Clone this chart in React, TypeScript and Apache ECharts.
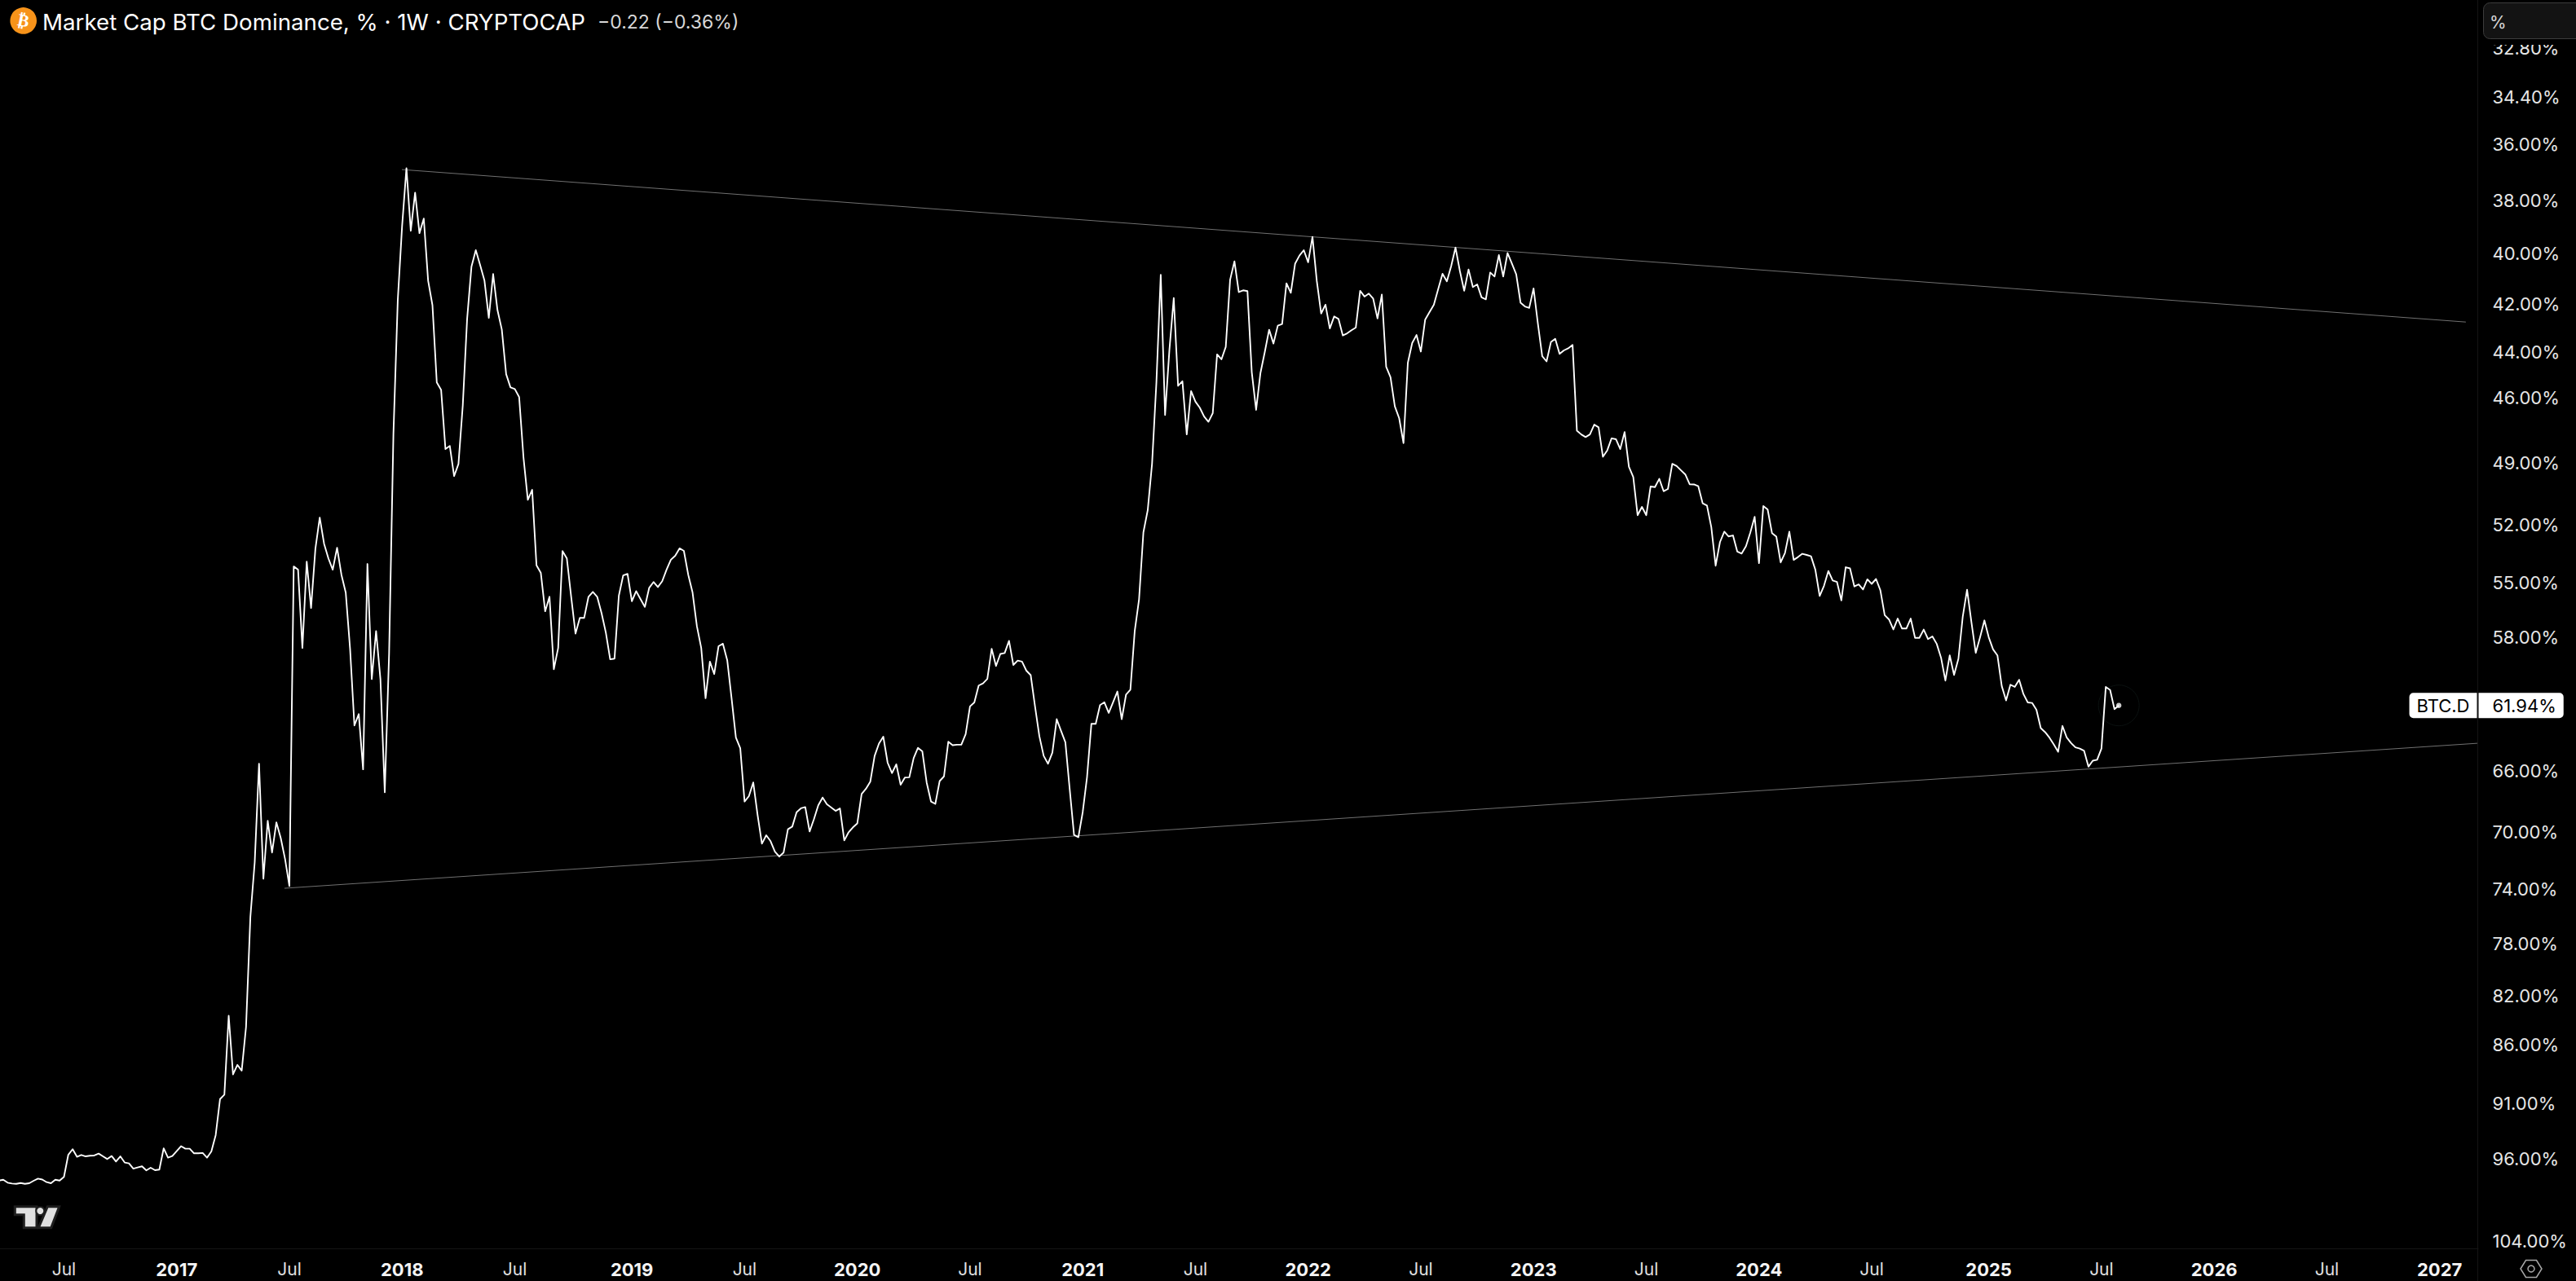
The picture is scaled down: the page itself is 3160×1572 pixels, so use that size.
import React, { useEffect, useRef } from "react";
import * as echarts from "echarts";

// Weekly BTC dominance (%), in order.
const dominanceEarly = [
  98.07, 97.99, 98.27, 98.35, 98.38, 98.30, 98.38, 98.32, 98.09, 97.89, 97.97, 98.22, 98.32, 97.99, 98.07, 97.72,
  95.65, 95.14, 95.84, 95.67, 95.80, 95.74, 95.72, 95.54, 95.80, 96.05, 95.77, 96.28, 95.80, 96.37, 96.45, 96.94,
  96.83, 96.73, 97.11, 96.86, 97.09, 97.03, 95.06, 95.92, 95.77, 95.31, 94.86, 95.09, 95.09, 95.52, 95.52, 95.49,
  95.92, 95.34, 93.85, 90.64, 90.26, 83.62, 88.50, 87.69, 88.18, 84.53,
];
const dominance2017 = [
  76.0, 72.09, 65.53, 73.24, 69.25, 71.41, 69.36, 70.41, 71.86, 73.76, 54.15, 54.32, 58.59, 53.90, 56.37, 53.23,
  51.65, 52.97, 53.73, 54.32, 53.18, 54.58, 55.54, 58.64, 63.15, 62.46, 65.89, 54.02, 60.38, 57.64, 60.38, 67.37,
  58.91, 47.63, 41.86, 38.96, 36.84, 39.14, 37.72, 39.23, 38.68, 41.07, 42.06,
];
const dominance2018 = [
  45.32, 45.65, 48.34, 48.19, 49.62, 49.04, 46.33, 42.62, 40.52, 39.88, 40.46, 41.07, 42.58, 40.81, 42.26, 43.06,
  44.96, 45.54, 45.61, 45.97, 48.73, 50.77, 50.28, 54.09, 54.49, 56.55, 55.76, 59.81, 58.59, 53.35, 53.73, 55.76,
  57.78, 56.91, 56.91, 55.76, 55.50, 55.76, 56.64, 57.73, 59.24, 59.20, 55.70, 54.62, 54.54, 56.00, 55.46, 55.89,
  56.31, 55.28,
];
const dominance2019 = [
  54.97, 55.24, 54.93, 54.32, 53.80, 53.59, 53.21, 53.34, 54.58, 55.53, 57.37, 58.59, 61.51, 59.37, 60.09, 58.49,
  58.35, 59.29, 61.51, 63.90, 64.55, 67.97, 67.62, 66.73, 68.86, 70.80, 70.23, 70.63, 71.35, 71.69, 71.41, 69.82,
  69.64, 68.68, 68.42, 68.34, 69.97, 69.14, 68.22, 67.71, 68.15, 68.37, 68.59, 68.43, 70.58, 70.02, 69.69, 69.43,
  67.48, 67.14,
];
const dominance2020 = [
  66.68, 65.04, 64.27, 63.84, 65.47, 66.13, 65.57, 66.88, 66.41, 66.40, 65.18, 64.53, 64.75, 66.73, 67.97, 68.13,
  66.64, 66.34, 64.15, 64.37, 64.34, 64.34, 63.68, 62.00, 61.76, 60.76, 60.63, 60.37, 58.64, 59.62, 58.93, 58.88,
  58.19, 59.56, 59.31, 59.37, 59.89, 60.15, 62.00, 63.81, 65.04, 65.53, 64.83, 62.77, 63.48, 64.19, 67.17, 70.21,
  70.36, 68.68,
];
const dominance2021 = [
  66.38, 63.05, 63.05, 61.92, 61.75, 62.39, 61.75, 61.11, 62.77, 61.29, 61.00, 57.64, 55.89, 52.39, 51.28, 49.02,
  45.32, 40.84, 46.77, 43.92, 41.77, 45.47, 45.27, 47.66, 45.70, 46.17, 46.44, 46.84, 47.08, 46.69, 44.11, 44.32,
  43.79, 41.04, 40.31, 41.53, 41.46, 41.49, 44.88, 46.54, 44.91, 44.01, 43.07, 43.65, 42.90, 42.83, 41.18, 41.56,
  40.40, 40.09,
];
const dominance2022 = [
  39.88, 40.35, 39.37, 41.09, 42.40, 42.04, 43.02, 42.52, 42.62, 43.31, 43.22, 43.09, 42.98, 41.48, 41.71, 41.59,
  41.79, 42.60, 41.63, 44.64, 45.09, 46.38, 46.92, 48.06, 44.47, 43.63, 43.29, 43.99, 42.65, 42.34, 42.04, 41.41,
  40.80, 41.10, 40.50, 39.78, 40.69, 41.48, 40.63, 41.33, 41.22, 41.74, 41.82, 40.75, 40.91, 40.07, 40.91, 39.99,
  40.40, 40.82,
];
const dominance2023 = [
  41.96, 42.11, 42.17, 41.38, 42.82, 44.19, 44.41, 43.59, 43.45, 44.09, 43.94, 43.85, 43.71, 47.49, 47.66, 47.78,
  47.66, 47.21, 47.33, 48.70, 48.40, 47.84, 47.88, 48.34, 47.55, 49.18, 49.66, 51.53, 51.12, 51.53, 50.12, 50.15,
  49.75, 50.35, 50.24, 49.03, 49.14, 49.34, 49.54, 50.01, 50.02, 50.11, 50.94, 51.05, 52.13, 54.11, 52.89, 52.36,
  52.60, 52.55,
];
const dominance2024 = [
  53.38, 53.48, 53.10, 52.40, 51.61, 53.98, 51.08, 51.25, 52.43, 52.61, 53.94, 53.45, 52.36, 53.81, 53.66, 53.49,
  53.55, 53.62, 54.32, 55.72, 55.17, 54.39, 54.89, 54.97, 55.96, 54.19, 54.25, 55.21, 55.10, 55.37, 54.83, 55.07,
  54.81, 55.41, 56.76, 57.00, 57.55, 56.95, 57.50, 57.50, 56.95, 58.02, 58.02, 57.56, 58.09, 57.94, 58.36, 59.15,
  60.47, 59.01,
];
const dominance2025 = [
  60.14, 59.21, 56.85, 55.38, 57.14, 58.87, 57.99, 57.05, 57.99, 58.67, 59.01, 60.79, 61.64, 60.71, 60.84, 60.42,
  61.26, 61.76, 61.79, 62.20, 63.31, 63.56, 63.90, 64.32, 64.78, 63.18, 63.90, 64.24, 64.50, 64.58, 64.72, 65.72,
  65.34, 65.28, 64.58, 60.84, 61.02, 62.16, 61.94,
];

const priceTicks = [32.8, 34.4, 36, 38, 40, 42, 44, 46, 49, 52, 55, 58, 66, 70, 74, 78, 82, 86, 91, 96, 104];
const timeTickWeeks = [15, 41, 67, 93, 119, 146, 172, 198, 224, 250, 276, 302, 328, 354, 380, 406, 432, 459, 485, 511, 537, 563];
const timeTickLabels = ["Jul", "2017", "Jul", "2018", "Jul", "2019", "Jul", "2020", "Jul", "2021", "Jul", "2022", "Jul", "2023", "Jul", "2024", "Jul", "2025", "Jul", "2026", "Jul", "2027"];

const upperTrend = [[92.95, 36.89], [569.05, 42.75]];
const lowerTrend = [[65.87, 73.92], [571.7, 64.25]];

const SYMBOL = "BTC.D";
const LAST_VALUE = "61.94%";
const TITLE = "Market Cap BTC Dominance, % · 1W · CRYPTOCAP";
const CHANGE = "−0.22 (−0.36%)";

const WEEK_MIN = 0.2445;
const WEEK_MAX = 571.9;
const FONT = "Inter, Roboto, sans-serif";

const dominance = [
  ...dominanceEarly, ...dominance2017, ...dominance2018, ...dominance2019, ...dominance2020,
  ...dominance2021, ...dominance2022, ...dominance2023, ...dominance2024, ...dominance2025,
];
const lastWeek = dominance.length - 1;
const lastPoint = [lastWeek, dominance[lastWeek]];

export default function App() {
  const ref = useRef<HTMLDivElement>(null);
  useEffect(() => {
    document.documentElement.style.background = "#000";
    document.body.style.background = "#000";
    const chart = echarts.init(ref.current!, undefined, { renderer: "svg" });
    const line = (data: number[][], color: string, width: number) => ({
      type: "line" as const,
      data,
      symbol: "none",
      showSymbol: false,
      lineStyle: { color, width, join: "round" },
      silent: true,
    });
    const hiddenDot = { color: "rgba(0,0,0,0)" };
    chart.setOption({
      animation: false,
      backgroundColor: "#000000",
      grid: { left: 0, top: 0, width: 3040, height: 1532, containLabel: false },
      xAxis: {
        type: "value",
        min: WEEK_MIN,
        max: WEEK_MAX,
        splitLine: { show: false },
        axisTick: { show: false },
        axisLine: { show: true, lineStyle: { color: "#151515", width: 1 } },
        axisLabel: {
          customValues: timeTickWeeks,
          margin: 15,
          hideOverlap: false,
          formatter: (v: number) => {
            const t = timeTickLabels[timeTickWeeks.indexOf(v)] ?? "";
            return t === "Jul" ? `{m|${t}}` : `{y|${t}}`;
          },
          rich: {
            m: { color: "#e0e0e0", fontFamily: FONT, fontSize: 21 },
            y: { color: "#f4f4f4", fontFamily: FONT, fontSize: 22, fontWeight: 700 },
          },
        },
      },
      yAxis: {
        type: "log",
        logBase: 10,
        inverse: true,
        min: 31.31,
        max: 104.72,
        position: "right",
        splitLine: { show: false },
        axisTick: { show: false },
        minorTick: { show: false },
        axisLabel: { show: false },
        axisLine: { show: false },
      },
      series: [
        line(upperTrend, "#707070", 1),
        line(lowerTrend, "#707070", 1),
        line(dominance.map((v, i) => [i, v]), "#ffffff", 1.9),
        {
          type: "scatter",
          data: [lastPoint],
          symbolSize: 50,
          itemStyle: { color: "rgba(0,0,0,0)", borderColor: "#0e1514", borderWidth: 1 },
          silent: true,
        },
        {
          type: "scatter",
          data: [lastPoint],
          symbolSize: 6.5,
          itemStyle: { color: "#ffffff" },
          silent: true,
        },
        {
          type: "scatter",
          clip: false,
          data: priceTicks.map((v) => [WEEK_MAX, v]),
          symbolSize: 1,
          itemStyle: hiddenDot,
          silent: true,
          label: {
            show: true,
            opacity: 1,
            position: "right",
            distance: 17,
            color: "#e6e6e6",
            fontFamily: FONT,
            fontSize: 22,
            formatter: (p: any) => `${p.value[1].toFixed(2)}%`,
          },
        },
        {
          type: "scatter",
          clip: false,
          data: [[WEEK_MAX, dominance[lastWeek]]],
          symbolSize: 1,
          itemStyle: hiddenDot,
          silent: true,
          label: {
            show: true,
            opacity: 1,
            position: "right",
            distance: 0,
            color: "#000000",
            backgroundColor: "#ffffff",
            borderRadius: [0, 5, 5, 0],
            padding: [5, 9, 5, 17],
            lineHeight: 21,
            fontFamily: FONT,
            fontSize: 22,
            formatter: LAST_VALUE,
          },
        },
        {
          type: "scatter",
          clip: false,
          data: [[WEEK_MAX, dominance[lastWeek]]],
          symbolSize: 1,
          itemStyle: hiddenDot,
          silent: true,
          label: {
            show: true,
            opacity: 1,
            position: "left",
            distance: 1,
            color: "#000000",
            backgroundColor: "#ffffff",
            borderRadius: [5, 0, 0, 5],
            padding: [5, 9, 5, 9],
            lineHeight: 21,
            fontFamily: FONT,
            fontSize: 22,
            formatter: SYMBOL,
          },
        },
      ],
      graphic: [
        { type: "line", z: 1, shape: { x1: 3039.5, y1: 0, x2: 3039.5, y2: 1572 }, style: { stroke: "#151515", lineWidth: 1 } },
        { type: "circle", z: 100, shape: { cx: 28.7, cy: 25.4, r: 16.3 }, style: { fill: "#f7931a" } },
        {
          type: "text", z: 101, x: 28.7, y: 25.4, rotation: -0.2,
          style: { text: "₿", fill: "#ffffff", font: "bold 21px 'DejaVu Sans'", align: "center", verticalAlign: "middle" },
        },
        { type: "text", z: 100, x: 52, y: 27, style: { text: TITLE, fill: "#ffffff", font: `27.7px ${FONT}`, verticalAlign: "middle" } },
        { type: "text", z: 100, x: 733, y: 27, style: { text: CHANGE, fill: "#d8d8d8", font: `23px ${FONT}`, verticalAlign: "middle" } },
        { type: "rect", z: 100, shape: { x: 3042, y: 47, width: 118, height: 8 }, style: { fill: "#000000" } },
        {
          type: "rect", z: 101, shape: { x: 3046.5, y: 3.5, width: 130, height: 44, r: 8 },
          style: { fill: "#131313", stroke: "#3c3c3c", lineWidth: 1 },
        },
        { type: "text", z: 102, x: 3054, y: 27, style: { text: "%", fill: "#d8d8d8", font: `21px ${FONT}`, verticalAlign: "middle" } },
        {
          type: "polygon", z: 100,
          shape: { points: [[18.3, 1480.7], [45, 1480.7], [45, 1506.7], [29.3, 1506.7], [29.3, 1490.7], [18.3, 1490.7]] },
          style: { fill: "#e0e0e0", stroke: "#1e1e1e", lineWidth: 3 },
        },
        { type: "circle", z: 100, shape: { cx: 49.3, cy: 1486, r: 5 }, style: { fill: "#e0e0e0", stroke: "#1e1e1e", lineWidth: 2 } },
        {
          type: "polygon", z: 100,
          shape: { points: [[58.3, 1480.7], [72.7, 1480.7], [62.7, 1506.7], [47.3, 1506.7]] },
          style: { fill: "#e0e0e0", stroke: "#1e1e1e", lineWidth: 3 },
        },
        {
          type: "polygon", z: 100,
          shape: { points: [[3092, 1557], [3098.5, 1546.5], [3111.5, 1546.5], [3118, 1557], [3111.5, 1567.5], [3098.5, 1567.5]] },
          style: { fill: "transparent", stroke: "#a8a8a8", lineWidth: 1.5 },
        },
        { type: "circle", z: 100, shape: { cx: 3105, cy: 1557, r: 4 }, style: { fill: "transparent", stroke: "#a8a8a8", lineWidth: 1.5 } },
      ],
    });
    return () => chart.dispose();
  }, []);
  return <div ref={ref} style={{ position: "absolute", left: 0, top: 0, width: 3160, height: 1572 }} />;
}
